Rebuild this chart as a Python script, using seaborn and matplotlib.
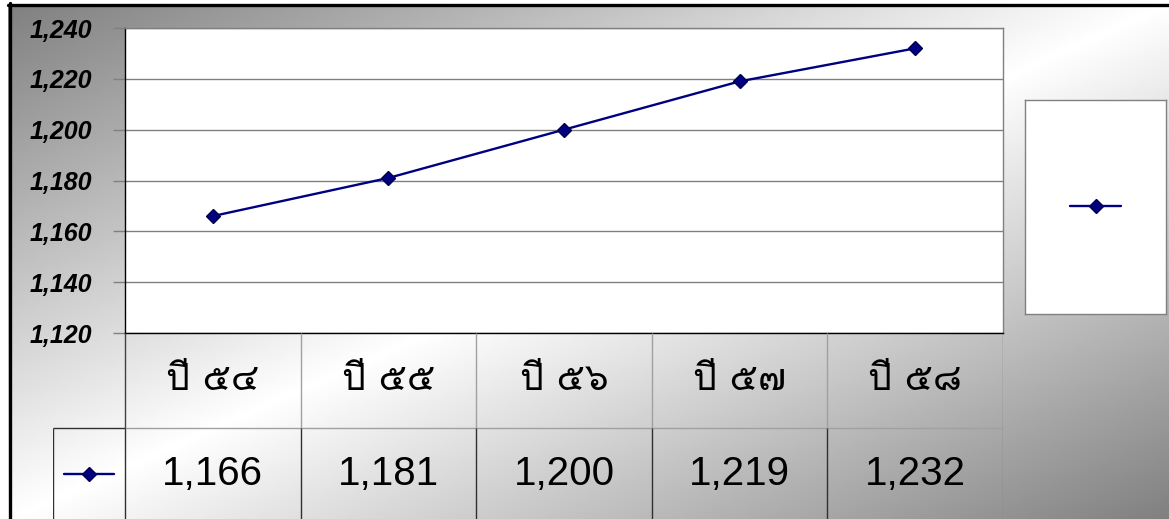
import numpy as np
import pandas as pd
import matplotlib
matplotlib.use("Agg")
import matplotlib.pyplot as plt
import seaborn as sns
from matplotlib import font_manager
from matplotlib.lines import Line2D

# ---------------- data ----------------
categories = ["ปี ๕๔", "ปี ๕๕", "ปี ๕๖", "ปี ๕๗", "ปี ๕๘"]
values = [1166, 1181, 1200, 1219, 1232]
value_labels = ["1,166", "1,181", "1,200", "1,219", "1,232"]
y_ticks = [1120, 1140, 1160, 1180, 1200, 1220, 1240]
y_tick_labels = ["1,120", "1,140", "1,160", "1,180", "1,200", "1,220", "1,240"]


def find_thai_font():
    try:
        from fontTools.ttLib import TTFont
    except Exception:
        return None
    for path in sorted(font_manager.findSystemFonts()):
        try:
            f = TTFont(path, fontNumber=0, lazy=True)
            cmap = f.getBestCmap() or {}
            if 0x0E1B in cmap and 0x0E35 in cmap and 0x0E55 in cmap:
                return path
        except Exception:
            continue
    return None


sns.set_theme(style="white")
plt.rcParams["font.family"] = ["Liberation Sans", "DejaVu Sans"]

thai_path = find_thai_font()
if thai_path:
    font_manager.fontManager.addfont(thai_path)
    thai_name = font_manager.FontProperties(fname=thai_path).get_name()
    thai_family = [thai_name, "Liberation Sans", "DejaVu Sans"]
else:
    thai_family = ["Liberation Sans", "DejaVu Sans"]

W, H = 1169, 519
fig = plt.figure(figsize=(W / 100, H / 100), dpi=100, facecolor="white")

# ---------------- gradient background ----------------
bg = fig.add_axes([8 / W, 0, 1 - 8 / W, 1 - 4 / H], zorder=-10)
yy, xx = np.mgrid[0:H, 0:W]
t = (xx / W + yy / H) / 2
g = 1 - np.abs(t - 0.5) * 2
gray = 0.5 + 0.5 * g
bg.imshow(gray, cmap="gray", vmin=0, vmax=1, aspect="auto", extent=[0, 1, 0, 1])
bg.axis("off")

fig.add_artist(Line2D([8 / W, 1], [1 - 4.5 / H, 1 - 4.5 / H], color="black", lw=2.4,
                      transform=fig.transFigure))
fig.add_artist(Line2D([9.5 / W, 9.5 / W], [0, 1 - 3 / H], color="black", lw=2.4,
                      transform=fig.transFigure))

# ---------------- main plot ----------------
px_left, px_right, px_top, px_bottom = 125, 1003, 28, 333
ax = fig.add_axes([px_left / W, (H - px_bottom) / H, (px_right - px_left) / W,
                   (px_bottom - px_top) / H], zorder=1)
ax.set_facecolor("white")

df = pd.DataFrame({"x": np.arange(len(categories)), "value": values})
sns.lineplot(data=df, x="x", y="value", ax=ax, color="#000080", linewidth=1.7,
             marker="D", markersize=7, markerfacecolor="#000080",
             markeredgecolor="#000050", markeredgewidth=1.0)
line = ax.lines[0]

ax.set_xlim(-0.5, len(categories) - 0.5)
ax.set_ylim(y_ticks[0], y_ticks[-1])
ax.set_xticks([])
ax.set_yticks(y_ticks)
ax.set_yticklabels(y_tick_labels, fontsize=18, fontstyle="italic", fontweight="bold",
                   family=["Liberation Sans", "DejaVu Sans"])
ax.set_xlabel("")
ax.set_ylabel("")
ax.yaxis.grid(True, color="#808080", linewidth=1.0)
ax.xaxis.grid(False)
ax.tick_params(axis="y", left=True, length=8.6, width=1.0, color="#808080", pad=15,
               labelcolor="black")
for side in ["left", "bottom"]:
    ax.spines[side].set_color("black")
    ax.spines[side].set_linewidth(1.0)
for side in ["top", "right"]:
    ax.spines[side].set_color("#808080")
    ax.spines[side].set_linewidth(1.0)

# ---------------- data table ----------------
unit = (px_right - px_left) / len(categories)
tab_left = 53
ext = (px_left - tab_left) / unit
tab = fig.add_axes([tab_left / W, 0, (px_right - tab_left) / W, (H - px_bottom) / H],
                   zorder=2)
tab.set_facecolor("none")
tab.set_xlim(-0.5 - ext, len(categories) - 0.5)
row_h = 95
tab.set_ylim(H - px_bottom, 0)
tab.axis("off")

n = len(categories)
edges = np.arange(n + 1) - 0.5
# header row lines
tab.vlines(edges[1:-1], 0, row_h, color="#a0a0a0", lw=1.0)
tab.vlines([edges[0]], 0, row_h, color="#404040", lw=1.0)
tab.vlines([edges[-1]], 0, row_h, color="#808080", lw=1.0)
tab.hlines([row_h], edges[0], edges[-1], color="#a0a0a0", lw=1.0)
# value row lines
tab.vlines(list(edges[:-1]) + [-0.5 - ext], row_h, 2 * row_h, color="#303030", lw=1.0)
tab.vlines([edges[-1]], row_h, 2 * row_h, color="#808080", lw=1.0)
tab.hlines([row_h], -0.5 - ext, edges[0], color="#303030", lw=1.0)

for i, (c, v) in enumerate(zip(categories, value_labels)):
    tab.text(i, row_h / 2, c, ha="center", va="center", fontsize=27,
             family=thai_family, color="black")
    tab.text(i, row_h + 46, v, ha="center", va="center", fontsize=29,
             family=["Liberation Sans", "DejaVu Sans"], color="black")

tab.legend(handles=[line], labels=[""], loc="center",
           bbox_to_anchor=(-0.5 - ext / 2, row_h + 47), bbox_transform=tab.transData,
           frameon=False, handlelength=3.67, handletextpad=0, borderpad=0,
           fontsize=10)

# ---------------- legend box ----------------
lg = fig.add_axes([1025 / W, (H - 314) / H, 141 / W, 214 / H], zorder=2)
lg.set_facecolor("white")
lg.set_xticks([])
lg.set_yticks([])
for s in lg.spines.values():
    s.set_color("#808080")
    s.set_linewidth(1.0)
lg.legend(handles=[line], labels=[""], loc="center", frameon=False,
          handlelength=3.67, handletextpad=0, borderpad=0, fontsize=10)

fig.savefig("out.png", dpi=100, facecolor="white")
